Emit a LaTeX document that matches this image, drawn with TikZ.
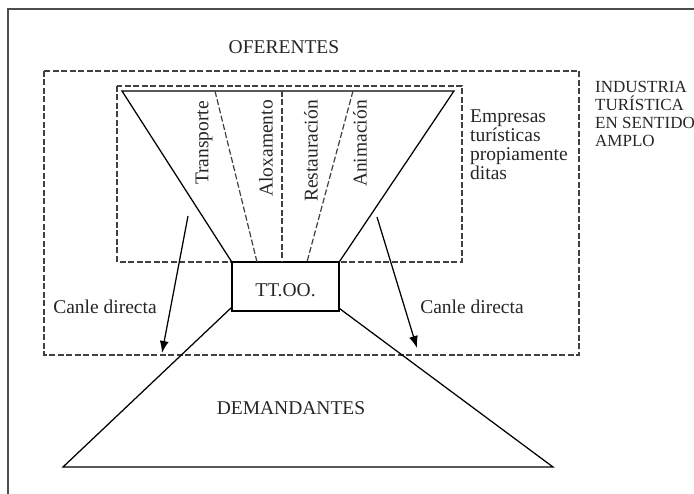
\documentclass[tikz,border=0pt]{standalone}
\usepackage{fontspec}
\setmainfont{Liberation Serif}
\usetikzlibrary{arrows.meta}

\begin{document}
\begin{tikzpicture}[x=1pt, y=-1pt,
    texto/.style={font=\fontsize{19.5}{19}\selectfont, text=black!85, inner sep=0pt},
    sector/.style={texto, rotate=90, anchor=east},
    discont/.style={draw=black!75, line width=1.2pt, dash pattern=on 6pt off 2.5pt},
    trazo/.style={draw=black, line width=1.25pt},
    frecha/.style={trazo, -{Latex[length=12pt,width=9pt]}}]
    \useasboundingbox (0,0) rectangle (694,494);
    % marco
    \draw[black!70, line width=1.5pt] (8,520) -- (8,9) -- (720,9);
    % industria e empresas
    \draw[discont] (44,71) rectangle (579,355);
    \draw[discont] (117,86) rectangle (462,262);
    \node[texto] (ofer) at (284,47) {OFERENTES};
    \node[texto, align=left, anchor=north west] (empr) at (470,110)
        {Empresas\\turísticas\\propiamente\\ditas};
    \node[texto, font=\fontsize{17}{18}\selectfont, align=left, anchor=north west] (ind) at (595,81)
        {INDUSTRIA\\TURÍSTICA\\EN SENTIDO\\AMPLO};
    % TT.OO.
    \node[texto, trazo, text height=20pt, minimum width=107pt, minimum height=49pt] (tto) at (285.5,286.5) {TT.OO.};
    % oferentes
    \coordinate (sup-e) at (122,91);
    \coordinate (sup-d) at (454,91);
    \draw[trazo] (tto.north west) -- (sup-e) -- (sup-d) -- (tto.north east);
    \foreach \a/\b in {215/257, 282/282, 353/307}
        \draw[discont] (\a,91) -- (\b,262);
    \node[sector] (transp) at (204,101) {Transporte};
    \node[sector] (aloxa) at (266,100) {Aloxamento};
    \node[sector] (resta) at (311,100) {Restauración};
    \node[sector] (anima) at (360,100) {Animación};
    % demandantes
    \coordinate (inf-e) at (63,467);
    \coordinate (inf-d) at (553,467);
    \draw[trazo] ([yshift=4pt]tto.south west) -- (inf-e) -- (inf-d) -- ([yshift=3pt]tto.south east);
    \node[texto] (dema) at (291,408) {DEMANDANTES};
    % canles directas
    \coordinate (fe0) at (188,216);
    \coordinate (fe1) at (162,353);
    \coordinate (fd0) at (377,217);
    \coordinate (fd1) at (417,348);
    \draw[frecha] (fe0) -- (fe1);
    \draw[frecha] (fd0) -- (fd1);
    \node[texto] (canle-e) at (105,307) {Canle directa};
    \node[texto] (canle-d) at (472,307) {Canle directa};
\end{tikzpicture}
\end{document}
